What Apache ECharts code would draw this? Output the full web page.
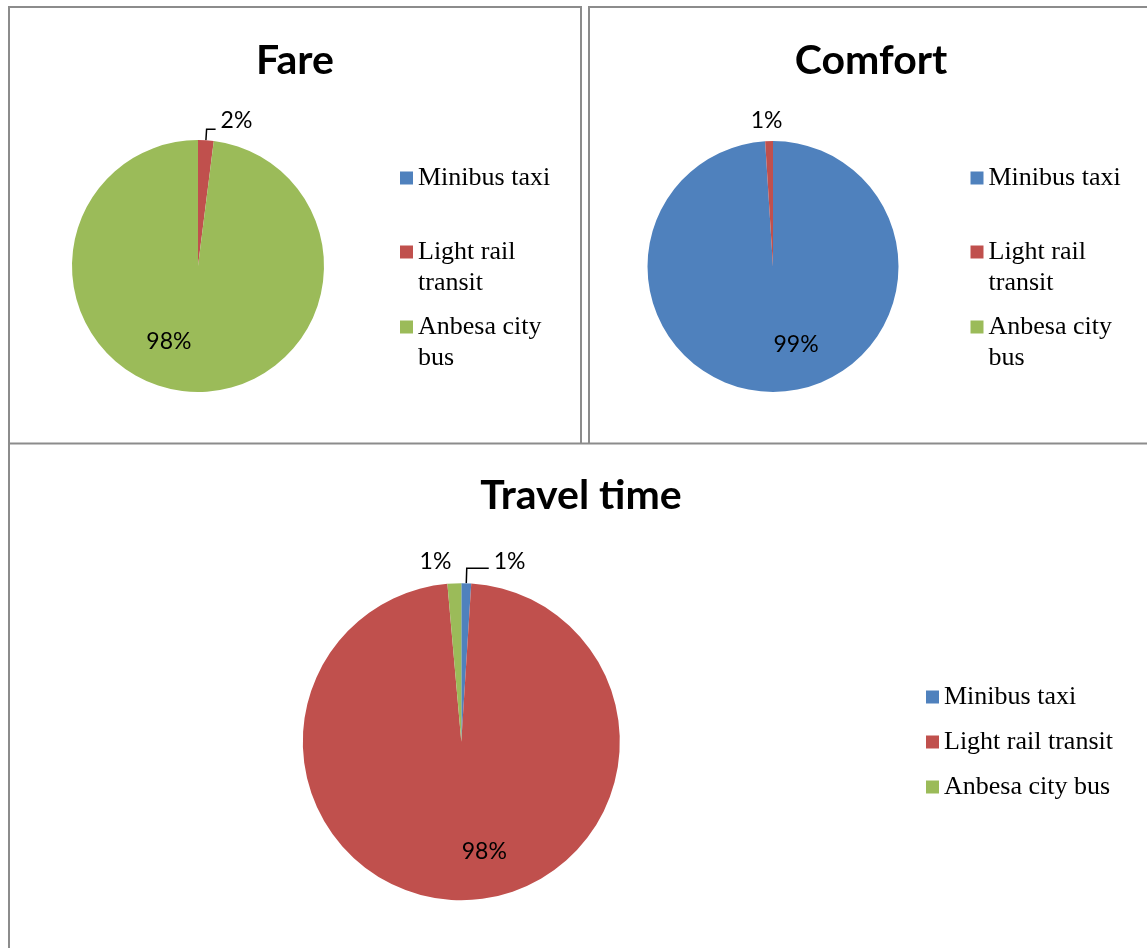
<!DOCTYPE html>
<html>
<head>
<meta charset="utf-8">
<script src="https://cdn.jsdelivr.net/npm/echarts@6/dist/echarts.min.js"></script>
<style>
html,body{margin:0;padding:0;background:#fff;}
#c{width:1147px;height:948px;}
</style>
</head>
<body>
<div id="c"></div>
<script>
// ---- data ----
const categories = ['Minibus taxi', 'Light rail transit', 'Anbesa city bus'];
const panelTitles = ['Fare', 'Comfort', 'Travel time'];
const fareValues = [0, 2, 98];
const comfortValues = [99, 1, 0];
const travelTimeValues = [1.0, 97.6, 1.4];
const wrappedLegendLabels = ['Minibus taxi', 'Light rail\ntransit', 'Anbesa city\nbus'];
const sliceColors = ['#4F81BD', '#C0504D', '#9BBB59'];

// ---- styles ----
const labelFont = { fontFamily: 'Lato', fontSize: 23, color: '#000' };
const legendFont = { fontFamily: 'Liberation Serif', fontSize: 26, lineHeight: 31, color: '#000' };
const titleFont = { fontFamily: 'Lato', fontSize: 41, fontWeight: 'bold', color: '#000' };

function pieData(values, itemCfg) {
  return categories.map((name, i) => {
    const cfg = itemCfg[i] || {};
    return {
      name: name,
      value: values[i],
      itemStyle: { color: sliceColors[i] },
      label: Object.assign({ show: values[i] > 0 }, labelFont, cfg.label || {}),
      labelLine: Object.assign({ show: false }, cfg.labelLine || {})
    };
  });
}

function pieSeries(values, center, radius, itemCfg, nudges) {
  return {
    type: 'pie',
    center: center,
    radius: radius,
    startAngle: 90,
    clockwise: true,
    avoidLabelOverlap: false,
    animation: false,
    silent: true,
    percentPrecision: 0,
    label: { formatter: '{d}%' },
    labelLine: { lineStyle: { color: '#000', width: 1.5 } },
    emphasis: { disabled: true },
    labelLayout: function (p) {
      const n = nudges[p.dataIndex];
      return n ? { dx: n[0], dy: n[1] } : {};
    },
    data: pieData(values, itemCfg)
  };
}

// one legend entry; wrapped entries get a blank first line so the marker sits on the first text line
function singleLegend(name, text, left, top) {
  const wrapped = text.indexOf('\n') >= 0;
  return {
    data: [name],
    left: left,
    top: top,
    orient: 'vertical',
    padding: 0,
    itemWidth: 13,
    itemHeight: 13,
    itemGap: 0,
    icon: 'rect',
    selectedMode: false,
    formatter: function () { return wrapped ? '\u00a0\n' + text : text; },
    textStyle: legendFont
  };
}

const legends = [];
[400, 970.5].forEach(function (lx) {
  legends.push(singleLegend(categories[0], wrappedLegendLabels[0], lx, 162.5));
  legends.push(singleLegend(categories[1], wrappedLegendLabels[1], lx, 205.5));
  legends.push(singleLegend(categories[2], wrappedLegendLabels[2], lx, 280.5));
});
legends.push({
  data: categories,
  left: 926,
  top: 681.5,
  orient: 'vertical',
  padding: 0,
  itemWidth: 13,
  itemHeight: 13,
  itemGap: 14,
  icon: 'rect',
  selectedMode: false,
  textStyle: legendFont
});

const borderStyle = { stroke: '#8c8c8c', lineWidth: 2 };
function hline(x1, x2, y) { return { type: 'line', silent: true, shape: { x1: x1, y1: y, x2: x2, y2: y }, style: borderStyle }; }
function vline(x, y1, y2) { return { type: 'line', silent: true, shape: { x1: x, y1: y1, x2: x, y2: y2 }, style: borderStyle }; }

const option = {
  backgroundColor: '#fff',
  animation: false,
  color: sliceColors,
  title: [
    { text: panelTitles[0], left: 295, top: 40, textAlign: 'center', padding: 0, textStyle: titleFont },
    { text: panelTitles[1], left: 871, top: 40, textAlign: 'center', padding: 0, textStyle: titleFont },
    { text: panelTitles[2], left: 581, top: 475, textAlign: 'center', padding: 0, textStyle: titleFont }
  ],
  legend: legends,
  graphic: [
    vline(9, 7, 948),
    hline(8, 582, 7),
    hline(588, 1147, 7),
    vline(581, 7, 444),
    vline(589, 7, 444),
    hline(8, 1147, 443.5)
  ],
  series: [
    pieSeries(fareValues, [198, 266], 126, {
      1: { label: { position: 'outside', distanceToLabelLine: 5 }, labelLine: { show: true, length: 11, length2: 9 } },
      2: { label: { position: 'inside' } }
    }, { 1: [0, -9], 2: [-25, 10] }),
    pieSeries(comfortValues, [773, 266.5], 125.5, {
      0: { label: { position: 'inside' } },
      1: { label: { position: 'outside', distanceToLabelLine: 0 }, labelLine: { show: false, length: 20, length2: 0 } }
    }, { 0: [21, 12], 1: [14, 0] }),
    pieSeries(travelTimeValues, [461.3, 741.7], 158.5, {
      0: { label: { position: 'outside', distanceToLabelLine: 5 }, labelLine: { show: true, length: 15, length2: 22 } },
      1: { label: { position: 'inside' } },
      2: { label: { position: 'outside', distanceToLabelLine: 0 }, labelLine: { show: false, length: 22, length2: 0 } }
    }, { 0: [0, -7], 1: [22, 28], 2: [-2, 0] })
  ]
};

const chart = echarts.init(document.getElementById('c'), null, { renderer: 'canvas' });
chart.setOption(option);
</script>
</body>
</html>
